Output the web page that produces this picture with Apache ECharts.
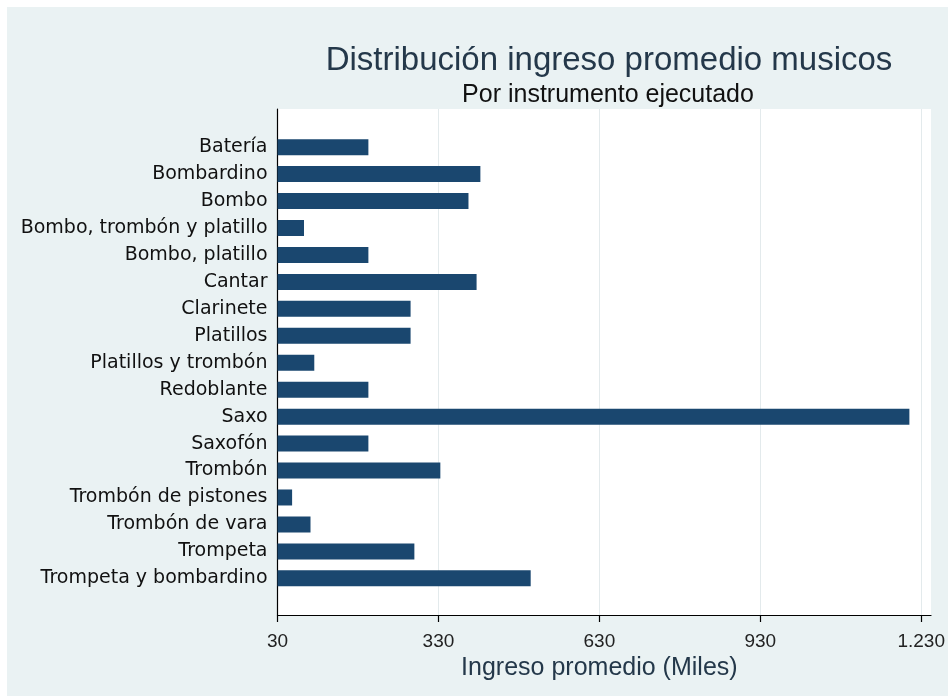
<!DOCTYPE html>
<html>
<head>
<meta charset="utf-8">
<script src="https://cdn.jsdelivr.net/npm/echarts@6/dist/echarts.min.js"></script>
<style>
html,body{margin:0;padding:0;background:#fff;width:948px;height:696px;overflow:hidden;}
#c{position:absolute;left:7px;top:7px;width:941px;height:689px;}
</style>
</head>
<body>
<div id="c"></div>
<script>
var categories = ['Batería','Bombardino','Bombo','Bombo, trombón y platillo','Bombo, platillo','Cantar','Clarinete','Platillos','Platillos y trombón','Redoblante','Saxo','Saxofón','Trombón','Trombón de pistones','Trombón de vara','Trompeta','Trompeta y bombardino'];
var ingreso = [198, 405, 383, 79, 198, 398, 276, 276, 98, 198, 1198, 198, 331, 57, 91, 283, 498];
var xTicks = [30, 330, 630, 930, 1230];
var titleText = 'Distribución ingreso promedio musicos';
var subtitleText = 'Por instrumento ejecutado';
var xTitle = 'Ingreso promedio (Miles)';

function fmt(v){
  var s = String(Math.round(v));
  return s.replace(/\B(?=(\d{3})+(?!\d))/g, '.');
}

var chart = echarts.init(document.getElementById('c'), null, {renderer:'canvas'});
chart.setOption({
  backgroundColor: '#EAF2F3',
  animation: false,
  title: [
    {text: titleText, left: 597, top: 32, textAlign: 'center',
     textStyle: {fontFamily: 'Liberation Sans', fontSize: 33, fontWeight: 'normal', color: '#24384a'}},
    {text: subtitleText, left: 596, top: 71, textAlign: 'center',
     textStyle: {fontFamily: 'Liberation Sans', fontSize: 25, fontWeight: 'normal', color: '#111'}}
  ],
  grid: [
    {left: 270.5, right: 17, top: 102, bottom: 81, show: true, backgroundColor: '#ffffff', borderWidth: 0},
    {left: 270.5, right: 21.3, top: 102, bottom: 81},
    {left: 270.5, right: 21.3, top: 126.7, bottom: 104.2}
  ],
  xAxis: [
    {gridIndex: 0, type: 'value', min: 0, max: 1,
     axisLine: {show: true, lineStyle: {color: '#000', width: 1.2}},
     axisTick: {show: false}, axisLabel: {show: false}, splitLine: {show: false}},
    {gridIndex: 1, type: 'value', min: xTicks[0], max: xTicks[xTicks.length-1], interval: xTicks[1]-xTicks[0],
     axisLine: {show: false},
     axisTick: {show: true, length: 7, lineStyle: {color: '#000', width: 1.2}},
     axisLabel: {margin: 17, fontFamily: 'Liberation Sans', fontSize: 19, color: '#222', formatter: fmt},
     splitLine: {show: true, lineStyle: {color: '#e3eaec', width: 1}},
     name: xTitle, nameLocation: 'middle', nameGap: 32,
     nameTextStyle: {fontFamily: 'Liberation Sans', fontSize: 25, color: '#24384a'}},
    {gridIndex: 2, type: 'value', min: xTicks[0], max: xTicks[xTicks.length-1], show: false}
  ],
  yAxis: [
    {gridIndex: 0, type: 'value', min: 0, max: 1,
     axisLine: {show: true, lineStyle: {color: '#000', width: 1.2}},
     axisTick: {show: false}, axisLabel: {show: false}, splitLine: {show: false}},
    {gridIndex: 1, type: 'value', show: false},
    {gridIndex: 2, type: 'category', data: categories, inverse: true,
     axisLine: {show: false}, axisTick: {show: false},
     axisLabel: {margin: 10, fontFamily: 'DejaVu Sans', fontSize: 19, color: '#111'}}
  ],
  series: [{
    type: 'bar', xAxisIndex: 2, yAxisIndex: 2, data: ingreso,
    barWidth: 16, clip: true,
    itemStyle: {color: '#1a476f'}
  }]
});
</script>
</body>
</html>
